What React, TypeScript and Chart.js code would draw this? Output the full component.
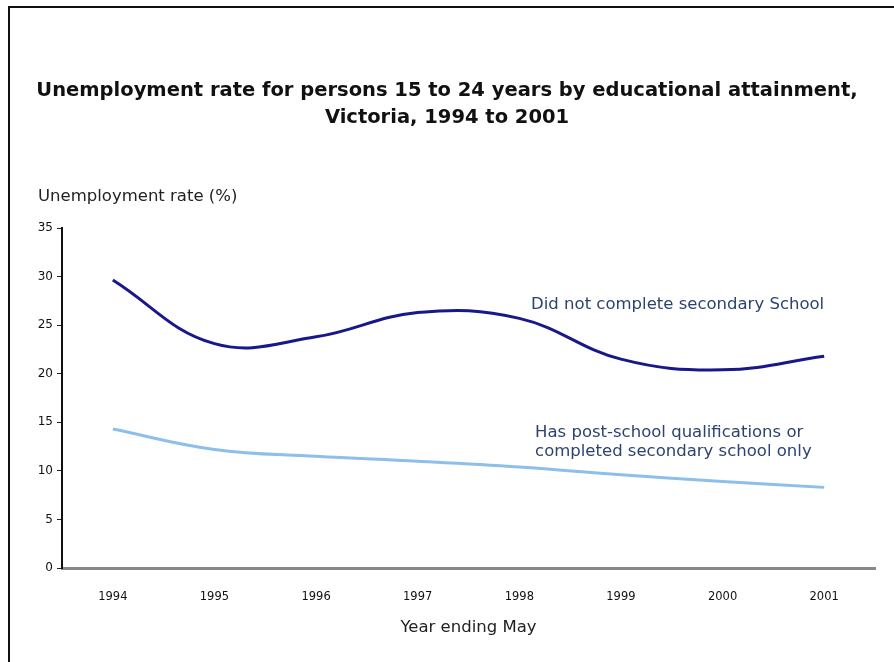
import React, { useEffect, useRef } from "react";
import { Chart, registerables } from "chart.js";

Chart.register(...registerables);

// ---- data ----
const years = ["1994", "1995", "1996", "1997", "1998", "1999", "2000", "2001"];
const didNotComplete = [29.65, 23.1, 23.8, 26.3, 25.7, 21.5, 20.4, 21.8];
const postSchool = [14.3, 12.2, 11.5, 11.0, 10.4, 9.6, 8.9, 8.3];
const yMin = 0;
const yMax = 35;
const yStep = 5;

const titleLines = [
  "Unemployment rate for persons 15 to 24 years by educational attainment,",
  "Victoria, 1994 to 2001",
];
const yAxisTitle = "Unemployment rate (%)";
const xAxisTitle = "Year ending May";
const darkLabel = ["Did not complete secondary School"];
const lightLabel = ["Has post-school qualifications or", "completed secondary school only"];
// anchors in data units: [category index, value]
const darkLabelAnchor = [7, 27.1];
const lightLabelAnchor = [4.155, 13.0];

const DARK = "#18188a";
const LIGHT = "#8dbfeb";
const NOTE = "#2c4370";
const FONT = "'DejaVu Sans', 'Liberation Sans', Arial, sans-serif";

function xPix(scale: any, idx: number) {
  const i = Math.floor(idx);
  const f = idx - i;
  const a = scale.getPixelForValue(i);
  if (f === 0) return a;
  const b = scale.getPixelForValue(i + 1);
  return a + (b - a) * f;
}

const textPlugin = {
  id: "textPlugin",
  afterDraw(chart: any) {
    const { ctx, chartArea, scales } = chart;
    const x = scales.x;
    const y = scales.y;
    ctx.save();
    ctx.textBaseline = "middle";
    ctx.font = `16.5px ${FONT}`;
    // y axis title above the axis
    ctx.fillStyle = "#222";
    ctx.textAlign = "left";
    ctx.fillText(yAxisTitle, chartArea.left - 24, chartArea.top - 31);

    // series notes
    ctx.fillStyle = NOTE;
    ctx.textAlign = "right";
    const dx = xPix(x, darkLabelAnchor[0]);
    const dy = y.getPixelForValue(darkLabelAnchor[1]);
    darkLabel.forEach((t, i) => ctx.fillText(t, dx, dy + i * 19));

    ctx.textAlign = "left";
    const lx = xPix(x, lightLabelAnchor[0]);
    const ly = y.getPixelForValue(lightLabelAnchor[1]);
    const lh = 19;
    lightLabel.forEach((t, i) =>
      ctx.fillText(t, lx, ly - ((lightLabel.length - 1) * lh) / 2 + i * lh)
    );
    ctx.restore();
  },
};

export default function App() {
  const ref = useRef<HTMLCanvasElement | null>(null);

  useEffect(() => {
    if (!ref.current) return;
    const chart = new Chart(ref.current, {
      type: "line",
      data: {
        labels: years,
        datasets: [
          {
            label: darkLabel[0],
            data: didNotComplete,
            borderColor: DARK,
            borderWidth: 3,
            pointRadius: 0,
            tension: 0.4,
            fill: false,
          },
          {
            label: lightLabel.join(" "),
            data: postSchool,
            borderColor: LIGHT,
            borderWidth: 3,
            pointRadius: 0,
            tension: 0.4,
            fill: false,
          },
        ],
      },
      options: {
        responsive: false,
        animation: false,
        devicePixelRatio: 1,
        layout: { padding: { top: 77, left: 0, right: 0, bottom: 0 } },
        plugins: {
          legend: { display: false },
          tooltip: { enabled: false },
          title: {
            display: true,
            text: titleLines,
            color: "#111",
            font: { family: FONT, size: 19.5, weight: "bold", lineHeight: 1.385 },
            padding: { top: 0, bottom: 97 },
          },
        },
        scales: {
          x: {
            type: "category",
            offset: true,
            grid: { display: false },
            border: { display: true, color: "#888", width: 3 },
            ticks: { color: "#111", font: { family: FONT, size: 11.5 }, padding: 14 },
            title: {
              display: true,
              text: xAxisTitle,
              color: "#222",
              font: { family: FONT, size: 16.5 },
              padding: { top: 0, bottom: 24 },
            },
            afterFit: (s: any) => {
              s.height = 94;
            },
          },
          y: {
            type: "linear",
            min: yMin,
            max: yMax,
            ticks: { stepSize: yStep, color: "#111", font: { family: FONT, size: 12 }, padding: 4 },
            grid: { display: true, drawOnChartArea: false, drawTicks: true, tickLength: 5, color: "#222", lineWidth: 1 },
            border: { display: true, color: "#111", width: 2 },
            afterFit: (s: any) => {
              s.width = 62;
            },
          },
          yRight: {
            type: "linear",
            position: "right",
            display: true,
            grid: { display: false },
            ticks: { display: false },
            border: { display: false },
            afterFit: (s: any) => {
              s.width = 19;
            },
          },
        },
      },
      plugins: [textPlugin],
    });
    return () => chart.destroy();
  }, []);

  return (
    <>
      <div
        style={{
          position: "absolute",
          left: 8,
          top: 6,
          width: 886,
          height: 656,
          borderLeft: "2px solid #111",
          borderTop: "2px solid #111",
          boxSizing: "border-box",
        }}
      />
      <canvas
        ref={ref}
        width={894}
        height={662}
        style={{ position: "absolute", left: 0, top: 0, width: 894, height: 662 }}
      />
    </>
  );
}
